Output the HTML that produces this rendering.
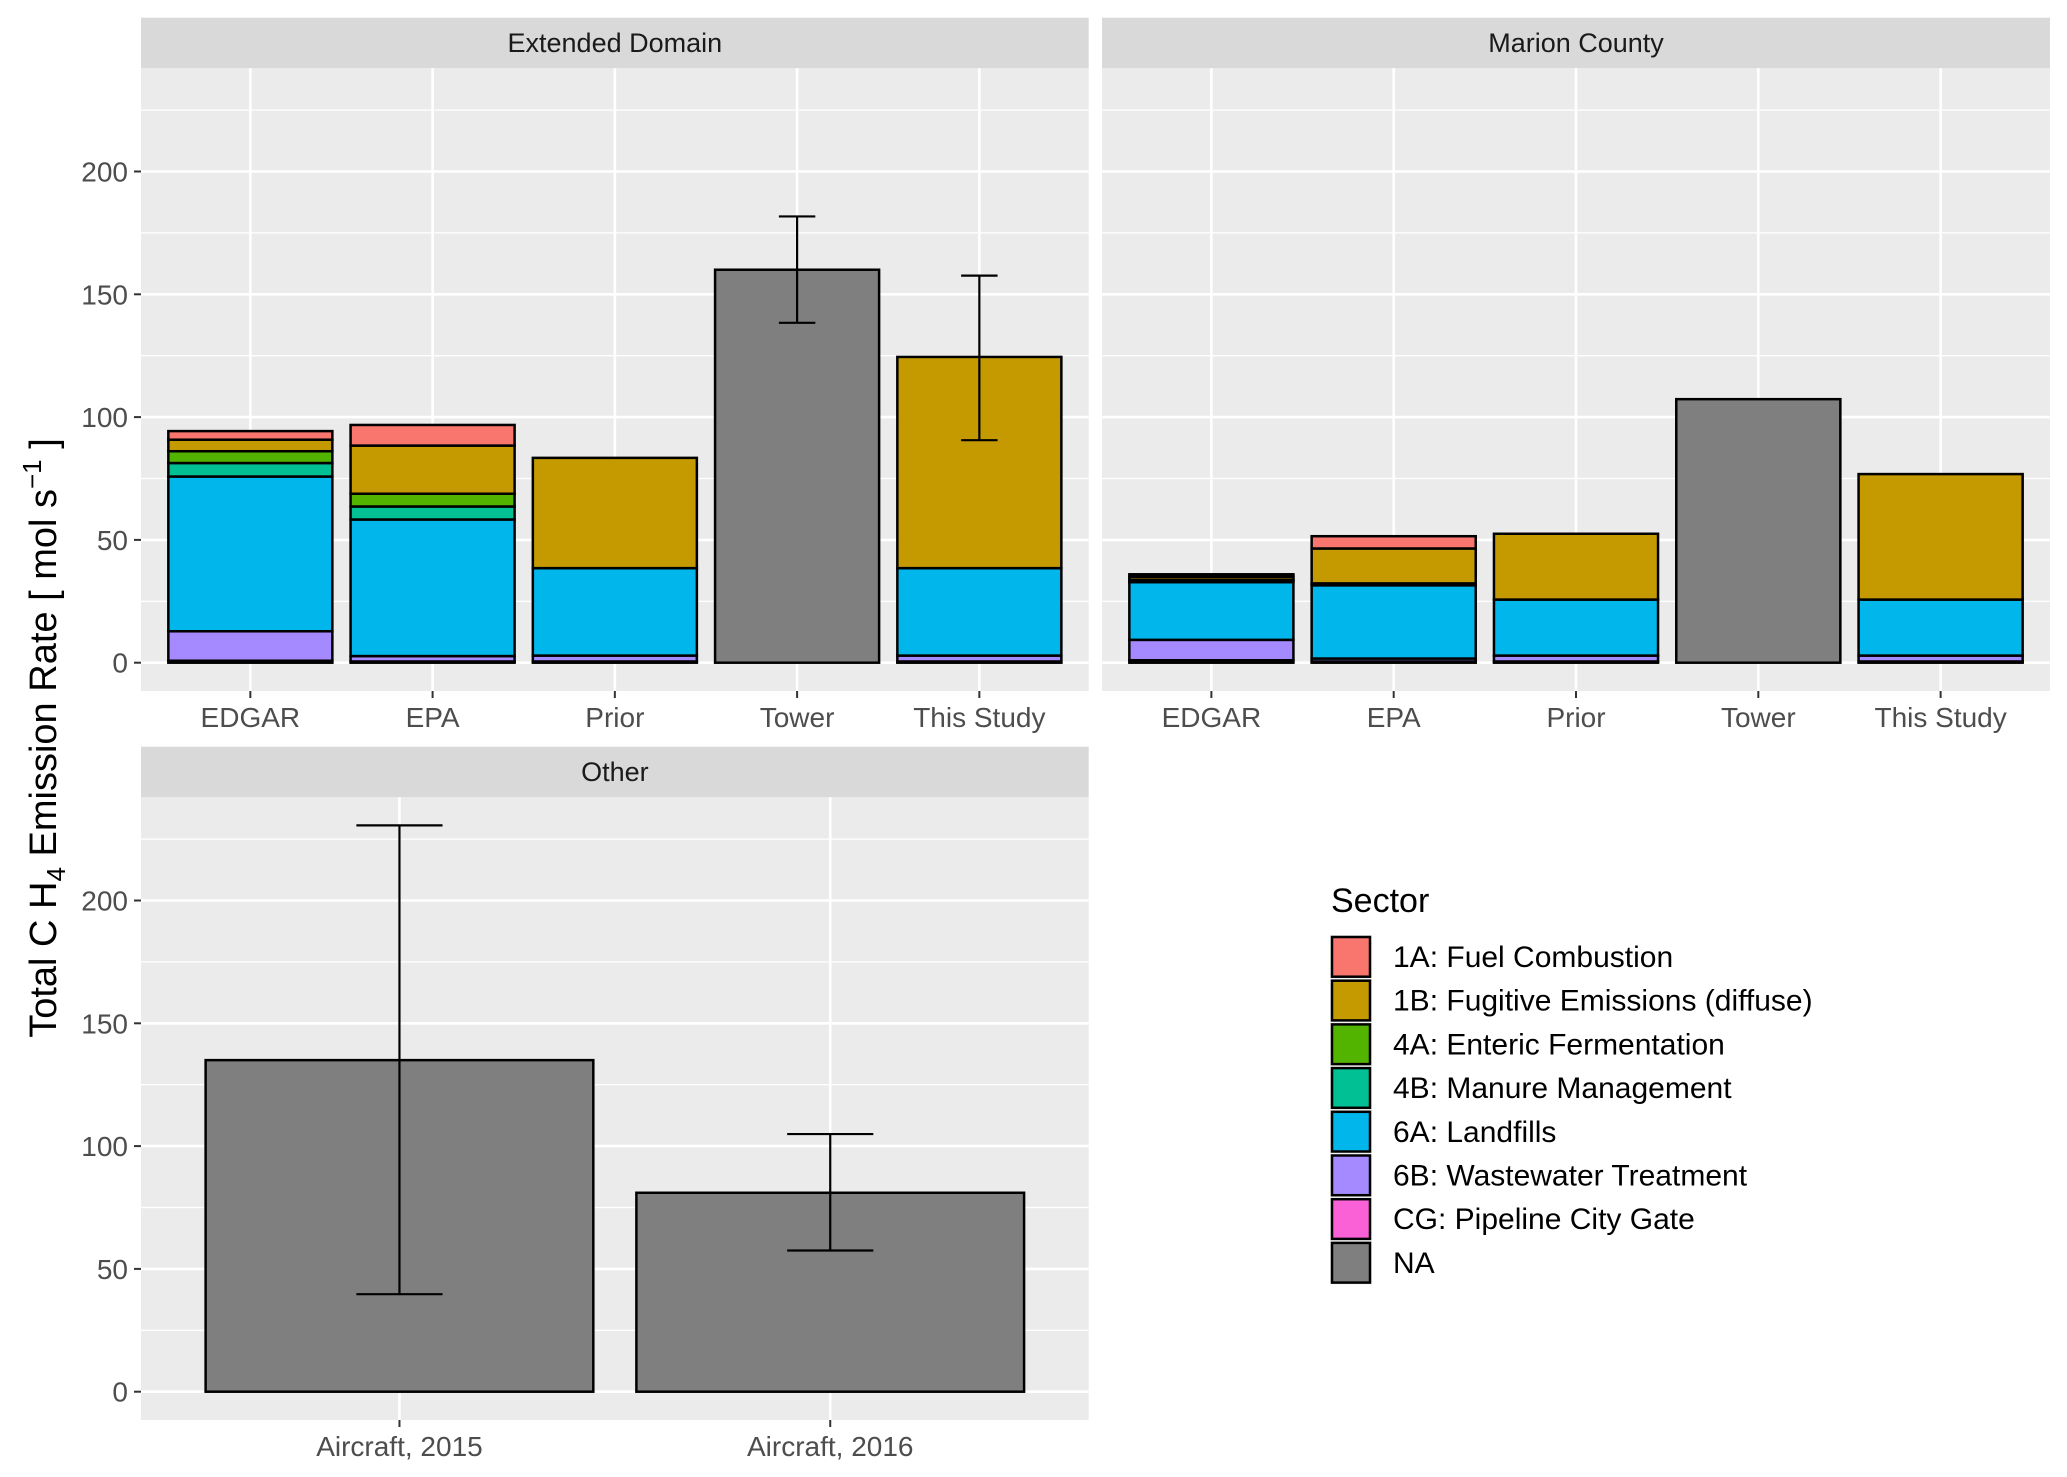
<!DOCTYPE html>
<html><head><meta charset="utf-8"><style>
html,body{margin:0;padding:0;background:#fff}
svg{display:block;font-family:"Liberation Sans",Arial,sans-serif}
</style></head><body>
<svg id="chart" width="2067" height="1477" viewBox="0 0 2067 1477" xmlns="http://www.w3.org/2000/svg">
<text transform="translate(56,738) rotate(-90)" text-anchor="middle" font-size="38" fill="#000">Total C H<tspan font-size="26" dy="9">4</tspan><tspan dy="-9"> Emission Rate [ mol s</tspan><tspan font-size="26" dy="-15">−1</tspan><tspan dy="15"> ]</tspan></text>
<g id="legend"></g>
</svg>
<script>
const sectors = ["CG: Pipeline City Gate","6B: Wastewater Treatment","6A: Landfills","4B: Manure Management","4A: Enteric Fermentation","1B: Fugitive Emissions (diffuse)","1A: Fuel Combustion"];
const sectorColors = ["#FB61D7","#A58AFF","#00B6EB","#00C094","#53B400","#C49A00","#F8766D"];
const legendLabels = ["1A: Fuel Combustion","1B: Fugitive Emissions (diffuse)","4A: Enteric Fermentation","4B: Manure Management","6A: Landfills","6B: Wastewater Treatment","CG: Pipeline City Gate","NA"];
const legendColors = ["#F8766D","#C49A00","#53B400","#00C094","#00B6EB","#A58AFF","#FB61D7","#7F7F7F"];
const categories = ["EDGAR","EPA","Prior","Tower","This Study"];
const extStacks = [[0.8,12,63,5.5,4.8,4.7,3.5],[0.5,2.2,55.6,5.3,5.2,19.6,8.4],[0.5,2.4,35.6,0,0,44.9,0],null,[0.5,2.4,35.6,0,0,86,0]];
const extNA = [0,0,0,160,0];
const extErrLow = [null,null,null,138.4,90.6];
const extErrHigh = [null,null,null,181.7,157.6];
const marStacks = [[1,8.3,23.5,0.7,0.3,1.2,1],[0.5,1.2,29.8,0.5,0.3,14.2,5],[0.5,2.4,22.8,0,0,26.8,0],null,[0.5,2.4,22.8,0,0,51.1,0]];
const marNA = [0,0,0,107.3,0];
const otherCategories = ["Aircraft, 2015","Aircraft, 2016"];
const otherNA = [135,81];
const otherErrLow = [39.7,57.5];
const otherErrHigh = [230.6,104.9];
const yTicks = [0,50,100,150,200];

const svg = document.getElementById('chart');
const NS = "http://www.w3.org/2000/svg";
function mk(tag, attrs, parent){const e=document.createElementNS(NS,tag);for(const k in attrs)e.setAttribute(k,attrs[k]);(parent||svg).appendChild(e);return e;}

function panel(p){
  const g = mk('g',{});
  
  
  const yScale = v => p.y0 - v*p.ppu;
  const n = p.cats.length;
  const step = (p.x1-p.x0)/(n-1+1.2);
  const xScale = i => p.x0 + step*(i+0.6);
  const bw = step*0.9;
  mk('rect',{x:p.x0,y:p.st,width:p.x1-p.x0,height:p.pt-p.st,fill:"#D9D9D9"},g);
  const s = mk('text',{x:(p.x0+p.x1)/2,y:(p.st+p.pt)/2+9,'text-anchor':'middle','font-size':27,fill:'#1A1A1A'},g);
  s.textContent = p.title;
  
  
  mk('rect',{x:p.x0,y:p.pt,width:p.x1-p.x0,height:p.pb-p.pt,fill:"#EBEBEB"},g);
  for(let i=0;i<yTicks.length-1;i++){
    const v=(yTicks[i]+yTicks[i+1])/2;
    mk('line',{x1:p.x0,x2:p.x1,y1:yScale(v),y2:yScale(v),stroke:'#fff','stroke-width':1.3},g);
  }
  const extra = yTicks[yTicks.length-1]+25;
  mk('line',{x1:p.x0,x2:p.x1,y1:yScale(extra),y2:yScale(extra),stroke:'#fff','stroke-width':1.3},g);
  yTicks.forEach(v=>{
    mk('line',{x1:p.x0,x2:p.x1,y1:yScale(v),y2:yScale(v),stroke:'#fff','stroke-width':2.6},g);
    if(p.yLabels){
      mk('line',{x1:p.x0-7,x2:p.x0,y1:yScale(v),y2:yScale(v),stroke:'#333','stroke-width':2},g);
      const t=mk('text',{x:p.x0-13,y:yScale(v)+10,'text-anchor':'end','font-size':28,fill:'#4D4D4D'},g);
      t.textContent=v;
      
      
    }
  });
  p.cats.forEach((c,i)=>{
    const x=xScale(i);
    mk('line',{x1:x,x2:x,y1:p.pt,y2:p.pb,stroke:'#fff','stroke-width':2.6},g);
    mk('line',{x1:x,x2:x,y1:p.pb,y2:p.pb+7,stroke:'#333','stroke-width':2},g);
    const t=mk('text',{x:x,y:p.pb+36,'text-anchor':'middle','font-size':28,fill:'#4D4D4D'},g);
    t.textContent=c;
    
    
  });
  p.cats.forEach((c,i)=>{
    const x=xScale(i)-bw/2;
    const st = p.stacks ? p.stacks[i] : null;
    if(st){
      let cum=0;
      st.forEach((v,k)=>{
        if(v<=0) return;
        const r=mk('rect',{x:x,y:yScale(cum+v),width:bw,height:v*p.ppu,fill:sectorColors[k],stroke:'#000','stroke-width':2.5},g);
        
        
        cum+=v;
      });
    }
    if(p.na[i]>0){
      const r=mk('rect',{x:x,y:yScale(p.na[i]),width:bw,height:p.na[i]*p.ppu,fill:'#7F7F7F',stroke:'#000','stroke-width':2.5},g);
      
      
    }
    if(p.lo && p.lo[i]!=null){
      const cx=xScale(i), hw=step*0.1;
      const eg=mk('g',{stroke:'#000','stroke-width':2.2},g);
      
      
      mk('line',{x1:cx,x2:cx,y1:yScale(p.lo[i]),y2:yScale(p.hi[i])},eg);
      mk('line',{x1:cx-hw,x2:cx+hw,y1:yScale(p.lo[i]),y2:yScale(p.lo[i])},eg);
      mk('line',{x1:cx-hw,x2:cx+hw,y1:yScale(p.hi[i]),y2:yScale(p.hi[i])},eg);
    }
  });
}
panel({name:'panel-extended-domain',title:'Extended Domain',x0:141,x1:1088.7,st:17.7,pt:68.3,pb:691,y0:662.7,ppu:2.456,cats:categories,stacks:extStacks,na:extNA,lo:extErrLow,hi:extErrHigh,yLabels:true});
panel({name:'panel-marion-county',title:'Marion County',x0:1102,x1:2050,st:17.7,pt:68.3,pb:691,y0:662.7,ppu:2.456,cats:categories,stacks:marStacks,na:marNA,lo:null,hi:null,yLabels:false});
panel({name:'panel-other',title:'Other',x0:141,x1:1088.7,st:746.7,pt:797.3,pb:1420,y0:1391.7,ppu:2.456,cats:otherCategories,stacks:null,na:otherNA,lo:otherErrLow,hi:otherErrHigh,yLabels:true});

const lg=document.getElementById('legend');
const lt=mk('text',{x:1331,y:912,'font-size':34,fill:'#000'},lg);
lt.textContent='Sector';


legendLabels.forEach((l,i)=>{
  const y=935+i*43.7;
  const e=mk('g',{},lg);
  
  
  mk('rect',{x:1330,y:y,width:42,height:43.7,fill:'#F2F2F2'},e);
  mk('rect',{x:1332,y:y+2,width:38,height:39.7,fill:legendColors[i],stroke:'#000','stroke-width':2.5},e);
  const t=mk('text',{x:1393,y:y+32,'font-size':30,fill:'#000'},e);
  t.textContent=l;
});
</script>
</body></html>
